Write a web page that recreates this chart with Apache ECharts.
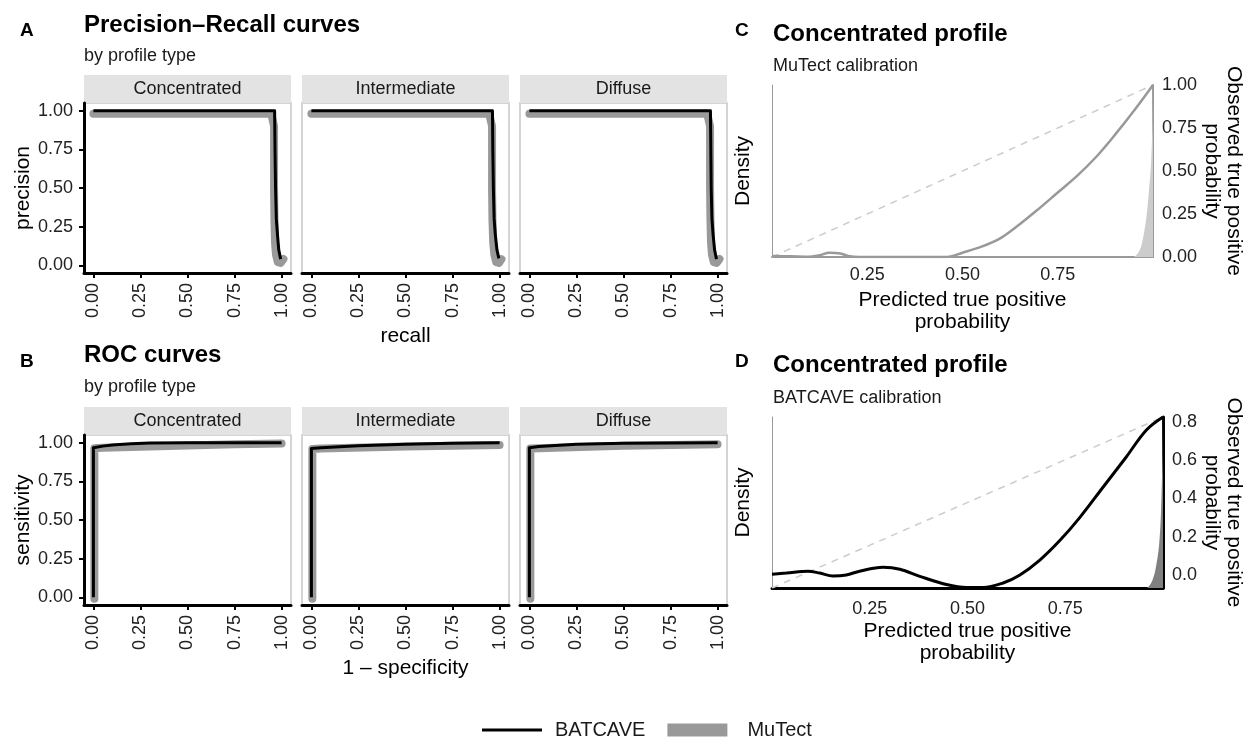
<!DOCTYPE html>
<html>
<head>
<meta charset="utf-8">
<script src="https://cdn.jsdelivr.net/npm/echarts@6/dist/echarts.min.js"></script>
<style>
  html, body { margin: 0; padding: 0; background: #fff; }
  #chartHome { width: 1249px; height: 743px; }
</style>
</head>
<body>
<div id="chartHome"></div>
<script>
const FONT = "'Liberation Sans', Arial, Helvetica, sans-serif"

// facets
const facets = ['Concentrated', 'Intermediate', 'Diffuse']
const unitTicks = [0, 0.25, 0.5, 0.75, 1]
const calibTicksC = [0, 0.25, 0.5, 0.75, 1]
const calibTicksD = [0, 0.2, 0.4, 0.6, 0.8]
const predTicks = [0.25, 0.5, 0.75]

// precision-recall, [recall, precision]
const prBatcaveConc = [[0, 1], [0.963, 1], [0.965, 0.75], [0.968, 0.5], [0.972, 0.3], [0.978, 0.2], [0.985, 0.1], [0.995, 0.04]]
const prMutectConc = [[0, 0.98], [0.945, 0.98], [0.955, 0.99], [0.96, 0.9], [0.96, 0.5], [0.962, 0.3], [0.965, 0.15], [0.97, 0.07], [0.98, 0.02], [0.995, 0.015], [1.01, 0.04]]
const prBatcaveInt = [[0, 1], [0.962, 1], [0.964, 0.75], [0.967, 0.5], [0.971, 0.3], [0.977, 0.2], [0.986, 0.1], [0.996, 0.045]]
const prMutectInt = [[0, 0.98], [0.945, 0.98], [0.955, 0.99], [0.96, 0.9], [0.96, 0.5], [0.962, 0.3], [0.966, 0.15], [0.972, 0.07], [0.982, 0.02], [0.997, 0.015], [1.01, 0.04]]
const prBatcaveDif = [[0, 1], [0.962, 1], [0.964, 0.75], [0.966, 0.5], [0.97, 0.3], [0.976, 0.2], [0.984, 0.1], [0.994, 0.04]]
const prMutectDif = [[0, 0.98], [0.945, 0.98], [0.955, 0.99], [0.96, 0.9], [0.96, 0.5], [0.962, 0.3], [0.965, 0.15], [0.97, 0.07], [0.98, 0.02], [0.995, 0.015], [1.01, 0.04]]

// ROC, [1 - specificity, sensitivity]
const rocBatcaveConc = [[0, 0], [0, 0.967], [0.05, 0.978], [0.1, 0.986], [0.2, 0.994], [0.3, 0.998], [0.5, 1], [1, 1]]
const rocMutectConc = [[0.005, -0.01], [0.005, 0.965], [0.05, 0.968], [0.25, 0.974], [0.5, 0.982], [0.75, 0.99], [1, 0.995]]
const rocBatcaveInt = [[0, 0], [0, 0.962], [0.05, 0.968], [0.25, 0.98], [0.5, 0.99], [0.75, 0.997], [1, 1]]
const rocMutectInt = [[0.005, -0.01], [0.005, 0.96], [0.05, 0.962], [0.5, 0.975], [1, 0.985]]
const rocBatcaveDif = [[0, 0], [0, 0.968], [0.05, 0.975], [0.25, 0.99], [0.5, 0.997], [1, 1]]
const rocMutectDif = [[0.005, -0.01], [0.005, 0.962], [0.05, 0.965], [0.5, 0.98], [1, 0.99]]

// calibration C (MuTect), [predicted, observed]
const calibMutect = [[0, 0.006], [0.05, 0.004], [0.1, 0.002], [0.125, 0.01], [0.15, 0.025], [0.18, 0.02], [0.2, 0.006], [0.23, 0], [0.46, 0], [0.5, 0.025], [0.55, 0.06], [0.6, 0.11], [0.65, 0.19], [0.7, 0.28], [0.75, 0.375], [0.8, 0.47], [0.85, 0.58], [0.9, 0.71], [0.95, 0.85], [1, 1]]
const densityMutect = [[0.95, 0], [0.96, 0.02], [0.97, 0.07], [0.982, 0.22], [0.99, 0.4], [0.995, 0.55], [0.999, 0.8], [1, 1]]
const diagC = [[0, 0], [1, 1]]

// calibration D (BATCAVE)
const calibBatcave = [[0, 0.004], [0.037, 0.01], [0.092, 0.02], [0.122, 0.01], [0.156, -0.005], [0.19, 0], [0.224, 0.02], [0.284, 0.04], [0.327, 0.03], [0.378, -0.007], [0.446, -0.05], [0.497, -0.066], [0.54, -0.066], [0.591, -0.042], [0.634, 0], [0.685, 0.078], [0.736, 0.18], [0.787, 0.3], [0.847, 0.46], [0.906, 0.617], [0.957, 0.757], [1, 0.826]]
const densityBatcave = [[0.96, 0], [0.97, 0.03], [0.98, 0.1], [0.99, 0.25], [0.995, 0.45], [0.999, 0.8], [1, 1]]
const diagD = [[0, -0.068], [1, 0.826]]

const prBatcave = [prBatcaveConc, prBatcaveInt, prBatcaveDif]
const prMutect = [prMutectConc, prMutectInt, prMutectDif]
const rocBatcave = [rocBatcaveConc, rocBatcaveInt, rocBatcaveDif]
const rocMutect = [rocMutectConc, rocMutectInt, rocMutectDif]

const fmt2 = v => v.toFixed(2)
const fmt1 = v => v.toFixed(1)

const grid = []
const xAxis = []
const yAxis = []
const series = []
const graphic = []

// facet rows A and B
const rows = [
  {top: 103, xName: 'recall', yName: 'precision', bat: prBatcave, mut: prMutect, stripTop: 75},
  {top: 435, xName: '1 \u2013 specificity', yName: 'sensitivity', bat: rocBatcave, mut: rocMutect, stripTop: 407}
]
rows.forEach(row => {
  facets.forEach((f, i) => {
    const left = 84 + i * 218
    const gi = grid.length
    grid.push({left: left, top: row.top, width: 207, height: 170, show: true, backgroundColor: '#fff',
      borderColor: '#d4d4d4', borderWidth: 2, outerBoundsMode: 'none'})
    xAxis.push({
      type: 'value', gridIndex: gi, min: -0.05, max: 1.05,
      name: i === 1 ? row.xName : '', nameLocation: 'middle', nameGap: 53, nameMoveOverlap: false,
      nameTextStyle: {fontSize: 21, color: '#000', fontFamily: FONT},
      axisLine: {onZero: false, lineStyle: {color: '#000', width: 3}},
      axisTick: {length: 5, customValues: unitTicks, lineStyle: {color: '#000', width: 2}},
      axisLabel: {customValues: unitTicks, rotate: 90, margin: 10, formatter: fmt2, fontSize: 18, color: '#222', fontFamily: FONT},
      splitLine: {show: false}
    })
    yAxis.push({
      type: 'value', gridIndex: gi, min: -0.05, max: 1.05,
      name: i === 0 ? row.yName : '', nameLocation: 'middle', nameGap: 50, nameMoveOverlap: false,
      nameTextStyle: {fontSize: 21, color: '#000', fontFamily: FONT},
      axisLine: {show: i === 0, onZero: false, lineStyle: {color: '#000', width: 3}},
      axisTick: {show: i === 0, length: 5, customValues: unitTicks, lineStyle: {color: '#000', width: 2}},
      axisLabel: {show: i === 0, customValues: unitTicks, margin: 11, formatter: fmt2, fontSize: 18, color: '#222', fontFamily: FONT},
      splitLine: {show: false}
    })
    series.push({
      name: 'MuTect', type: 'line', xAxisIndex: gi, yAxisIndex: gi, data: row.mut[i],
      symbol: 'none', lineStyle: {color: '#999', width: 8, cap: 'round', join: 'round'}, itemStyle: {color: '#999'}
    })
    series.push({
      name: 'BATCAVE', type: 'line', xAxisIndex: gi, yAxisIndex: gi, data: row.bat[i],
      symbol: 'none', lineStyle: {color: '#000', width: 3, join: 'round'}, itemStyle: {color: '#000'}
    })
    // facet strip
    graphic.push({type: 'rect', left: left, top: row.stripTop, shape: {width: 207, height: 28}, style: {fill: '#e3e3e3'}, silent: true})
    graphic.push({type: 'text', x: left + 103.5, y: row.stripTop + 14, style: {text: f, fontSize: 18, fontFamily: FONT,
      fill: '#1a1a1a', align: 'center', verticalAlign: 'middle'}, silent: true})
  })
})

// calibration panels C and D
const calib = [
  {top: 85, width: 381, height: 172, min: 0, max: 1, ticks: calibTicksC, fmt: fmt2, lineColor: '#999', lineW: 2, nameGap: 48, xLabelMargin: 9,
    curve: calibMutect, curveName: 'MuTect', curveColor: '#999', curveW: 2.5, dens: densityMutect, densColor: '#cccccc', diag: diagC},
  {top: 417, width: 391, height: 171, min: -0.068, max: 0.826, ticks: calibTicksD, fmt: fmt1, lineColor: '#000', lineW: 3, nameGap: 38, xLabelMargin: 12,
    curve: calibBatcave, curveName: 'BATCAVE', curveColor: '#000', curveW: 3, dens: densityBatcave, densColor: '#808080', diag: diagD}
]
calib.forEach(p => {
  const gi = grid.length
  grid.push({left: 772, top: p.top, width: p.width, height: p.height, show: false, outerBoundsMode: 'none'})
  xAxis.push({
    type: 'value', gridIndex: gi, min: 0, max: 1,
    name: 'Predicted true positive\nprobability', nameLocation: 'middle', nameGap: 32, nameMoveOverlap: false,
    nameTextStyle: {fontSize: 21, lineHeight: 22, color: '#000', fontFamily: FONT},
    axisLine: {onZero: false, lineStyle: {color: p.lineColor, width: p.lineW}},
    axisTick: {show: false},
    axisLabel: {customValues: predTicks, margin: p.xLabelMargin, formatter: fmt2, fontSize: 18, color: '#222', fontFamily: FONT},
    splitLine: {show: false}
  })
  const dIdx = yAxis.length
  yAxis.push({
    type: 'value', gridIndex: gi, min: 0, max: 1, position: 'left',
    name: 'Density', nameLocation: 'middle', nameGap: 18, nameMoveOverlap: false,
    nameTextStyle: {fontSize: 21, color: '#000', fontFamily: FONT},
    axisLine: {show: true, onZero: false, lineStyle: {color: '#999', width: 1}},
    axisTick: {show: false}, axisLabel: {show: false}, splitLine: {show: false}
  })
  const cIdx = yAxis.length
  yAxis.push({
    type: 'value', gridIndex: gi, min: p.min, max: p.max, position: 'right',
    name: 'Observed true positive\nprobability', nameLocation: 'middle', nameRotate: -90, nameGap: p.nameGap, nameMoveOverlap: false,
    nameTextStyle: {fontSize: 21, lineHeight: 22, color: '#000', fontFamily: FONT},
    axisLine: {show: true, onZero: false, lineStyle: {color: p.lineColor, width: p.lineW}},
    axisTick: {show: false},
    axisLabel: {customValues: p.ticks, margin: 9, formatter: p.fmt, fontSize: 18, color: '#222', fontFamily: FONT},
    splitLine: {show: false}
  })
  series.push({
    name: 'density', type: 'line', xAxisIndex: gi, yAxisIndex: dIdx, data: p.dens, symbol: 'none', smooth: 0.3,
    lineStyle: {width: 0}, areaStyle: {color: p.densColor, opacity: 1, origin: 'start'}, z: 1
  })
  series.push({
    name: 'diagonal', type: 'line', xAxisIndex: gi, yAxisIndex: cIdx, data: p.diag, symbol: 'none',
    lineStyle: {color: '#cccccc', width: 1.5, type: [7, 6]}, z: 2
  })
  series.push({
    name: p.curveName, type: 'line', xAxisIndex: gi, yAxisIndex: cIdx, data: p.curve, symbol: 'none', smooth: 0.35,
    lineStyle: {color: p.curveColor, width: p.curveW}, itemStyle: {color: p.curveColor}, z: 3
  })
})

const titleStyle = {fontSize: 24, fontWeight: 'bold', color: '#000', fontFamily: FONT}
const subStyle = {fontSize: 18, fontWeight: 'normal', color: '#1a1a1a', fontFamily: FONT}
const tagStyle = {fontSize: 19, fontWeight: 'bold', color: '#000', fontFamily: FONT}

const option = {
  animation: false,
  backgroundColor: '#fff',
  textStyle: {fontFamily: FONT},
  title: [
    {text: 'A', left: 20, top: 21, padding: 0, textStyle: tagStyle},
    {text: 'Precision\u2013Recall curves', left: 84, top: 13, padding: 0, textStyle: titleStyle},
    {text: 'by profile type', left: 84, top: 47, padding: 0, textStyle: subStyle},
    {text: 'B', left: 20, top: 352, padding: 0, textStyle: tagStyle},
    {text: 'ROC curves', left: 84, top: 343, padding: 0, textStyle: titleStyle},
    {text: 'by profile type', left: 84, top: 378, padding: 0, textStyle: subStyle},
    {text: 'C', left: 735, top: 21, padding: 0, textStyle: tagStyle},
    {text: 'Concentrated profile', left: 773, top: 22, padding: 0, textStyle: titleStyle},
    {text: 'MuTect calibration', left: 773, top: 57, padding: 0, textStyle: subStyle},
    {text: 'D', left: 735, top: 352, padding: 0, textStyle: tagStyle},
    {text: 'Concentrated profile', left: 773, top: 353, padding: 0, textStyle: titleStyle},
    {text: 'BATCAVE calibration', left: 773, top: 389, padding: 0, textStyle: subStyle}
  ],
  legend: {
    left: 482, top: 720, padding: 0, itemWidth: 60, itemHeight: 13, itemGap: 22, symbolKeepAspect: true,
    textStyle: {fontSize: 20, color: '#1a1a1a', fontFamily: FONT, padding: [0, 0, 0, 8]},
    data: [
      {name: 'BATCAVE', icon: 'path://M0,0h60v3h-60z', itemStyle: {color: '#000'}},
      {name: 'MuTect', icon: 'rect', itemStyle: {color: '#999'}, textStyle: {padding: [0, 0, 0, 15]}}
    ]
  },
  grid: grid,
  xAxis: xAxis,
  yAxis: yAxis,
  series: series,
  graphic: graphic
}

const chart = echarts.init(document.getElementById('chartHome'))
chart.setOption(option)
</script>
</body>
</html>
